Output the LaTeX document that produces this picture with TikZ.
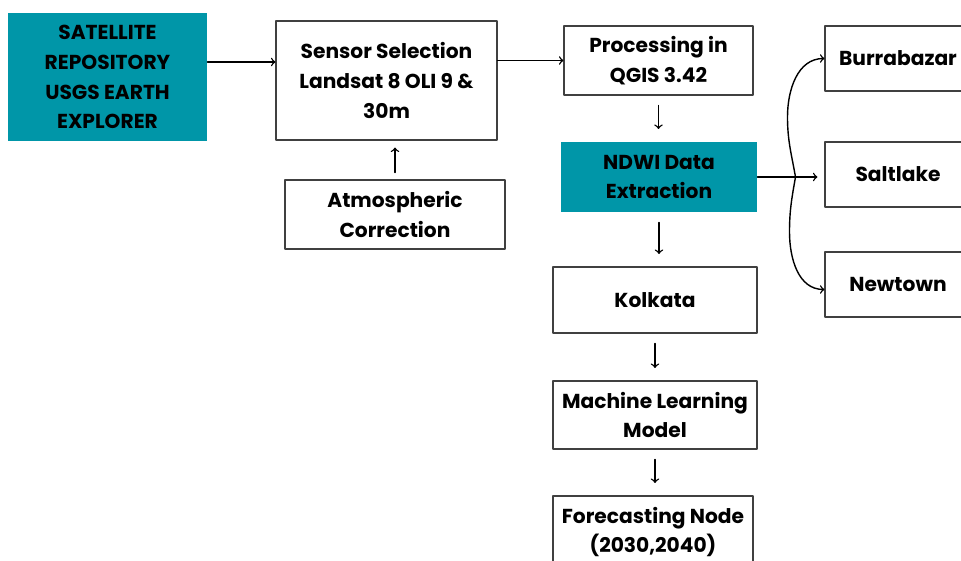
\documentclass[tikz,border=0pt]{standalone}
\usepackage{fontspec}
\setmainfont{Poppins}
\usetikzlibrary{arrows}
\definecolor{tealbox}{RGB}{0,150,168}

\begin{document}
\begin{tikzpicture}[line cap=round,line join=round,>=to,x=0.02cm,
y=-0.02cm,line width=0.8pt,
box/.style={draw=black!75,line width=0.6pt,align=center,inner sep=2pt,
font=\bfseries\fontsize{11.5}{17}\selectfont},
tealnode/.style={box,fill=tealbox,draw=none},
gap/.style={shorten <=0.2cm,shorten >=0.25cm}]
\clip (0,0) rectangle (961,561);
% Vẽ các hộp
\node[tealnode,minimum width=3.98cm,minimum height=2.56cm] (sat)
at (107.5,77) {SATELLITE\\REPOSITORY\\USGS EARTH\\EXPLORER};
\node[box,minimum width=4.42cm,minimum height=2.38cm] (sensor)
at (386.5,80.5) {Sensor Selection\\Landsat 8 OLI 9 \&\\30m};
\node[box,minimum width=4.40cm,minimum height=1.38cm] (atmos)
at (395,214.5) {Atmospheric\\Correction};
\node[box,minimum width=3.78cm,minimum height=1.38cm] (proc)
at (658.5,60.5) {Processing in\\QGIS 3.42};
\node[tealnode,minimum width=3.92cm,minimum height=1.40cm] (ndwi)
at (659,177) {NDWI Data\\Extraction};
\node[box,minimum width=4.08cm,minimum height=1.32cm] (kolkata)
at (655,300) {Kolkata};
\node[box,minimum width=4.08cm,minimum height=1.36cm] (model)
at (655,415) {Machine Learning\\Model};
\node[box,minimum width=4.00cm,minimum height=1.44cm] (forecast)
at (653,532) {Forecasting Node\\(2030,2040)};
% ba khu vực
\node[box,minimum width=2.92cm,minimum height=1.30cm] (burra)
at (898,58.5) {Burrabazar};
\node[box,minimum width=2.92cm,minimum height=1.30cm] (salt)
at (898,174.5) {Saltlake};
\node[box,minimum width=2.92cm,minimum height=1.30cm] (newtown)
at (898,284.5) {Newtown};
% Vẽ các mũi tên
\draw[->] ([yshift=0.3cm]sat.east) -- ([yshift=0.3cm]sat.east -| sensor.west);
\draw[->] (sensor.east |- proc.west) -- (proc.west);
\draw[->,shorten <=0.14cm,shorten >=0.14cm] (atmos.north) -- (atmos.north |- sensor.south);
\draw[->,gap] (proc.south) -- (proc.south |- ndwi.north);
\draw[->,gap] (ndwi.south) -- (ndwi.south |- kolkata.north);
\draw[->,gap] (kolkata.south) -- (kolkata.north |- model.north);
\draw[->,gap] (model.south) -- (model.south |- forecast.north);
% nhánh sang phải
\coordinate (fork) at ([xshift=0.76cm]ndwi.east);
\coordinate (upper) at ([shift={(-8,-60)}]fork);
\coordinate (lower) at ([shift={(-6,55)}]fork);
\draw[->,shorten >=0.14cm] (ndwi.east) -- (ndwi.east -| salt.west);
\draw[->] (fork) to[out=100,in=-90] (upper) to[out=90,in=180] (burra.west);
\draw[->] (fork) to[out=-100,in=90] (lower) to[out=-90,in=180]
([yshift=-0.1cm]newtown.west);
\end{tikzpicture}
\end{document}
